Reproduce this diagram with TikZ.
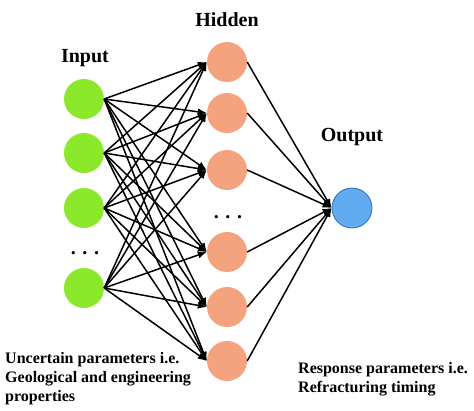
\documentclass[tikz,border=0pt]{standalone}
\usepackage{fontspec}
\setmainfont{Liberation Serif}
\usepackage{tikz}
\usetikzlibrary{arrows.meta, positioning}

\definecolor{ingreen}{RGB}{140,232,42}
\definecolor{hidorange}{RGB}{245,163,126}
\definecolor{outblue}{RGB}{96,170,240}
\definecolor{outborder}{RGB}{46,110,184}

\tikzset{
    neuron/.style={circle, minimum size=40pt, inner sep=0pt},
    layerlabel/.style={font=\fontsize{20}{24}\selectfont\bfseries},
    dots/.style={font=\fontsize{20}{24}\selectfont\bfseries, inner sep=0pt},
    note/.style={font=\fontsize{16}{19}\selectfont\bfseries, align=left, inner sep=0pt},
    link/.style={line width=1.5pt, -{Latex[length=9pt,width=7pt]}}
}

\begin{document}
\begin{tikzpicture}[x=1pt, y=-1pt]
            \useasboundingbox (0,0) rectangle (474,410);
            % input layer
            \node[neuron, fill=ingreen] (in1) at (84,99) {};
            \node[neuron, fill=ingreen] (in2) at (84,153) {};
            \node[neuron, fill=ingreen] (in3) at (84,208) {};
            \node[neuron, fill=ingreen] (in4) at (84,288) {};
            \node[dots] (indots) at (85,253) {. . .};
            \node[layerlabel] (inlabel) at (85,58) {Input};
            % hidden layer
            \node[neuron, fill=hidorange] (hid1) at (227,62) {};
            \node[neuron, fill=hidorange] (hid2) at (227,113) {};
            \node[neuron, fill=hidorange] (hid3) at (227,170) {};
            \node[neuron, fill=hidorange] (hid4) at (227,252) {};
            \node[neuron, fill=hidorange] (hid5) at (227,307) {};
            \node[neuron, fill=hidorange] (hid6) at (227,361) {};
            \node[dots] (hiddots) at (228,217) {. . .};
            \node[layerlabel] (hidlabel) at (227,20) {Hidden};
            % output layer
            \node[neuron, fill=outblue, draw=outborder, line width=0.8pt] (out) at (352,208) {};
            \node[layerlabel] (outlabel) at (352,137) {Output};
            % connections
            \foreach \i in {1,...,4}
                \foreach \j in {1,...,6}
                    \draw[link] (in\i.east) -- (hid\j.west);
            \foreach \j in {1,...,6}
                \draw[link] (hid\j.east) -- (out.west);
            % notes
            \node[note, anchor=north west] (innote) at (5,352)
                {Uncertain parameters i.e.\\Geological and engineering\\properties};
            \node[note, anchor=north west] (outnote) at (298,362)
                {Response parameters i.e.\\Refracturing timing};
        \end{tikzpicture}
\end{document}
